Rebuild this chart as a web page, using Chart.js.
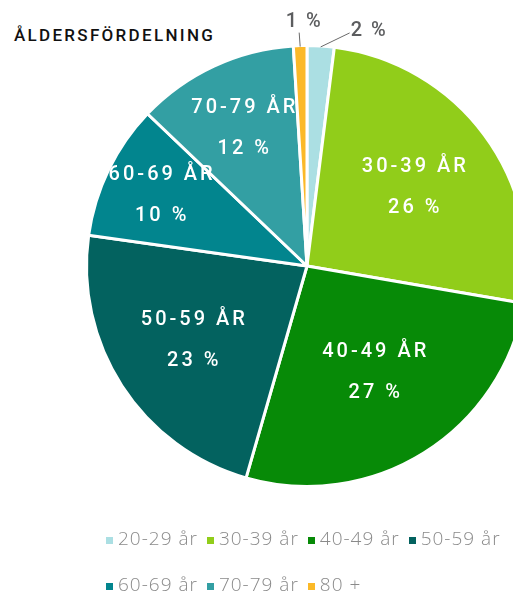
<!DOCTYPE html>
<html>
<head>
<meta charset="utf-8">
<script src="https://cdn.jsdelivr.net/npm/chart.js@4.4.1/dist/chart.umd.min.js"></script>
<style>
    html, body { margin: 0; padding: 0; background: #fff; width: 513px; height: 591px; overflow: hidden; }
    #wrap { position: absolute; left: 0; top: 0; width: 614px; height: 591px; }
    #title {
        position: absolute; left: 14px; top: 25px;
        font: 500 17px Roboto, sans-serif; letter-spacing: 2.3px; color: #111;
    }
    #legend {
        position: absolute; left: 106px; top: 525px; width: 420px;
        display: flex; flex-wrap: wrap; row-gap: 20px; column-gap: 9px;
        font: 300 19px 'Open Sans', sans-serif; letter-spacing: 1px; color: #8a8a8a;
    }
    #legend span.item { display: flex; align-items: center; white-space: nowrap; }
    #legend i { display: inline-block; width: 7px; height: 7px; margin-right: 5px; margin-top: 4px; }
</style>
</head>
<body>
<div id="title">ÅLDERSFÖRDELNING</div>
<div id="wrap"><canvas id="pieChart"></canvas></div>
<div id="legend"></div>

<script>
// Data
const ageGroups = ['20-29 år', '30-39 år', '40-49 år', '50-59 år', '60-69 år', '70-79 år', '80 +'];
const shares = [2, 26, 27, 23, 10, 12, 1];
const sliceColors = ['#abdfe3', '#91cd1a', '#078a07', '#03625f', '#02858e', '#339fa3', '#fbb928'];

// how far out the inside labels sit (fraction of radius)
const labelRadius = [0, 0.6, 0.57, 0.62, 0.74, 0.69, 0];
// leader line offsets for the tiny slices
const leaderOffsets = { 0: [29, -14], 6: [-1, -14] };

const sliceLabels = {
    id: 'sliceLabels',
    afterDatasetsDraw(chart) {
        const ctx = chart.ctx;
        const meta = chart.getDatasetMeta(0);
        ctx.save();
        meta.data.forEach((arc, i) => {
            const p = arc.getProps(['x', 'y', 'startAngle', 'endAngle', 'outerRadius'], true);
            const mid = (p.startAngle + p.endAngle) / 2;
            const pct = shares[i] + ' %';
            if (leaderOffsets[i]) {
                const [ox, oy] = leaderOffsets[i];
                const sx = p.x + Math.cos(mid) * (p.outerRadius - 1);
                const sy = p.y + Math.sin(mid) * (p.outerRadius - 1);
                ctx.strokeStyle = '#6a6a6a';
                ctx.lineWidth = 1;
                ctx.beginPath();
                ctx.moveTo(sx, sy);
                ctx.lineTo(sx + ox, sy + oy);
                ctx.stroke();
                ctx.fillStyle = '#5c5d5f';
                ctx.font = '500 20px Roboto';
                ctx.letterSpacing = '2px';
                ctx.textBaseline = 'middle';
                if (ox > 5) {
                    ctx.textAlign = 'left';
                    ctx.fillText(pct, sx + ox + 1, sy + oy - 2);
                } else {
                    ctx.textAlign = 'center';
                    ctx.fillText(pct, sx + ox + 5, sy + oy - 11);
                }
                return;
            }
            const r = p.outerRadius * labelRadius[i];
            const cx = p.x + Math.cos(mid) * r;
            const cy = p.y + Math.sin(mid) * r;
            ctx.fillStyle = '#ffffff';
            ctx.font = '500 20px Roboto';
            ctx.letterSpacing = '3px';
            ctx.textAlign = 'center';
            ctx.textBaseline = 'middle';
            ctx.fillText(ageGroups[i].replace('år', 'ÅR'), cx + 2, cy - 20);
            ctx.fillText(pct, cx + 2, cy + 21);
        });
        ctx.restore();
    }
};

const pieCtx = document.getElementById('pieChart').getContext('2d');
new Chart(pieCtx, {
    type: 'pie',
    data: {
        labels: ageGroups,
        datasets: [{
            data: shares,
            backgroundColor: sliceColors,
            borderColor: '#ffffff',
            borderWidth: 3
        }]
    },
    options: {
        responsive: true,
        maintainAspectRatio: false,
        animation: false,
        layout: { padding: { left: 85, right: 85, top: 44, bottom: 103 } },
        plugins: {
            legend: { display: false },
            tooltip: { enabled: false }
        }
    },
    plugins: [sliceLabels]
});

// Legend
const legendBox = document.getElementById('legend');
ageGroups.forEach((name, i) => {
    const item = document.createElement('span');
    item.className = 'item';
    item.innerHTML = `<i style="background:${sliceColors[i]}"></i>${name}`;
    legendBox.appendChild(item);
});
</script>
</body>
</html>
